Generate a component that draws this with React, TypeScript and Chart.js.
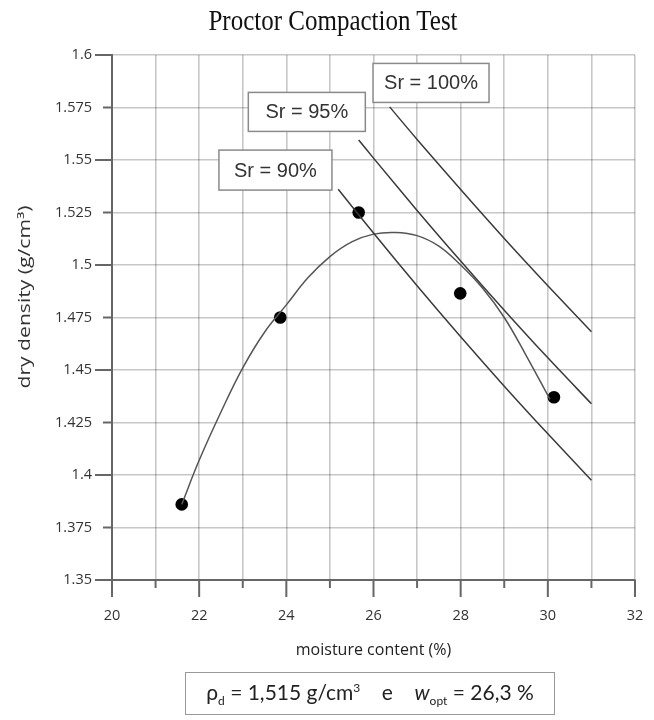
import React, { useEffect, useRef } from 'react';
import { Chart, registerables } from 'chart.js';
Chart.register(...registerables);

// measured points
const moisture = [21.6, 23.86, 25.66, 27.99, 30.14];
const dryDensity = [1.386, 1.475, 1.525, 1.4865, 1.437];

// fitted compaction curve
const curveMoisture = [21.6, 22.0, 22.5, 23.0, 23.5, 24.0, 24.5, 25.0, 25.5, 26.0, 26.5, 27.0, 27.5, 28.0, 28.5, 29.0, 29.5, 30.05];
const curveDensity = [1.386, 1.407, 1.43, 1.451, 1.468, 1.481, 1.494, 1.504, 1.511, 1.5147, 1.5155, 1.514, 1.509, 1.5, 1.489, 1.475, 1.457, 1.436];

// saturation lines
const sr90Moisture = [25.19, 26, 27, 28, 29, 30, 31];
const sr90Density = [1.5361, 1.5152, 1.4901, 1.4658, 1.4423, 1.4196, 1.3975];
const sr95Moisture = [25.66, 26, 27, 28, 29, 30, 31];
const sr95Density = [1.5595, 1.5509, 1.526, 1.5019, 1.4785, 1.4558, 1.4339];
const sr100Moisture = [26.37, 27, 28, 29, 30, 31];
const sr100Density = [1.5753, 1.5598, 1.5359, 1.5126, 1.4901, 1.4682];

// label anchors (data coordinates of box centres)
const srLabels = ['Sr = 90%', 'Sr = 95%', 'Sr = 100%'];
const srLabelMoisture = [23.75, 24.47, 27.32];
const srLabelDensity = [1.5452, 1.5729, 1.5867];

const titleText = 'Proctor Compaction Test';
const xTitle = 'moisture content (%)';
const yTitle = 'dry density (g/cm³)';
const xMin = 20, xMax = 32, xStep = 1;
const yMin = 1.35, yMax = 1.6, yStep = 0.025;

const zip = (xs: number[], ys: number[]) => xs.map((v, i) => ({ x: v, y: ys[i] }));

const decor = {
  id: 'decor',
  afterDatasetsDraw(chart: any) {
    const { ctx, scales: { x, y } } = chart;
    ctx.save();
    ctx.font = '20px "Liberation Sans", Arial, sans-serif';
    ctx.textAlign = 'center';
    ctx.textBaseline = 'middle';
    const sizes = [[113, 40], [117, 39], [116, 39]];
    srLabels.forEach((t, i) => {
      const cx = x.getPixelForValue(srLabelMoisture[i]);
      const cy = y.getPixelForValue(srLabelDensity[i]);
      const [w, h] = sizes[i];
      ctx.fillStyle = '#fff';
      ctx.fillRect(cx - w / 2, cy - h / 2, w, h);
      ctx.strokeStyle = '#8a8a8a';
      ctx.lineWidth = 1.5;
      ctx.strokeRect(cx - w / 2, cy - h / 2, w, h);
      ctx.fillStyle = '#333';
      ctx.fillText(t, cx, cy + 1);
    });
    ctx.restore();
  },
  afterDraw(chart: any) {
    const { ctx, chartArea, scales: { x, y } } = chart;
    ctx.save();
    ctx.strokeStyle = '#666';
    ctx.lineWidth = 2;
    y.ticks.forEach((t: any) => {
      const py = y.getPixelForValue(t.value);
      const r = t.value / 0.05;
      const major = Math.abs(r - Math.round(r)) < 1e-6;
      const len = major ? 17 : 9;
      ctx.beginPath();
      ctx.moveTo(chartArea.left - len, py);
      ctx.lineTo(chartArea.left, py);
      ctx.stroke();
    });
    x.ticks.forEach((t: any) => {
      const px = x.getPixelForValue(t.value);
      const major = Math.round(t.value) % 2 === 0;
      const len = major ? 17 : 8;
      ctx.beginPath();
      ctx.moveTo(px, chartArea.bottom);
      ctx.lineTo(px, chartArea.bottom + len);
      ctx.stroke();
    });
    ctx.translate(25, 297);
    ctx.rotate(-Math.PI / 2);
    ctx.scale(1.32, 1);
    ctx.font = '16px "Open Sans", sans-serif';
    ctx.fillStyle = '#333';
    ctx.textAlign = 'center';
    ctx.textBaseline = 'middle';
    ctx.fillText(yTitle, 0, 0);
    ctx.restore();
  },
};

export default function App() {
  const ref = useRef<HTMLCanvasElement | null>(null);
  useEffect(() => {
    if (!ref.current) return;
    const lineStyle = { showLine: true, pointRadius: 0, borderWidth: 1.5, fill: false };
    const chart = new Chart(ref.current, {
      type: 'scatter',
      data: {
        datasets: [
          { label: 'Sr 90', data: zip(sr90Moisture, sr90Density), borderColor: '#3a3a3a', tension: 0.3, ...lineStyle },
          { label: 'Sr 95', data: zip(sr95Moisture, sr95Density), borderColor: '#3a3a3a', tension: 0.3, ...lineStyle },
          { label: 'Sr 100', data: zip(sr100Moisture, sr100Density), borderColor: '#3a3a3a', tension: 0.3, ...lineStyle },
          { label: 'curve', data: zip(curveMoisture, curveDensity), borderColor: '#555', tension: 0.4, ...lineStyle },
          { label: 'points', data: zip(moisture, dryDensity), showLine: false, pointRadius: 6.3, pointBackgroundColor: '#000', pointBorderColor: '#000', pointBorderWidth: 0 },
        ] as any,
      },
      plugins: [decor],
      options: {
        animation: false,
        responsive: true,
        maintainAspectRatio: false,
        layout: { padding: { top: 55, right: 19, bottom: 0, left: 0 } },
        plugins: {
          legend: { display: false },
          tooltip: { enabled: false },
          title: { display: false },
        },
        scales: {
          x: {
            type: 'linear', min: xMin, max: xMax,
            afterFit: (s: any) => { s.height = 140; s.paddingLeft = 0; s.paddingRight = 0; },
            border: { color: '#666', width: 2 },
            grid: { color: 'rgba(0,0,0,0.22)', lineWidth: 1.6, drawTicks: false },
            ticks: {
              stepSize: xStep, padding: 27, color: '#333',
              font: { family: '"Open Sans", sans-serif', size: 14.5 },
              callback: (v: any) => (Math.round(v) % 2 === 0 ? String(v) : ''),
            },
            title: {
              display: true, text: xTitle, color: '#222',
              font: { family: '"Open Sans", sans-serif', size: 16 },
              padding: { bottom: 60 },
            },
          },
          y: {
            type: 'linear', min: yMin, max: yMax,
            afterFit: (s: any) => { s.width = 112; },
            border: { color: '#666', width: 2 },
            grid: { color: 'rgba(0,0,0,0.22)', lineWidth: 1.6, drawTicks: false },
            ticks: {
              stepSize: yStep, padding: 20, color: '#333',
              font: { family: '"Open Sans", sans-serif', size: 14.5 },
              callback: (v: any) => String(parseFloat(Number(v).toFixed(3))),
            },
          },
        },
      },
    });
    return () => chart.destroy();
  }, []);
  return (
    <div style={{ position: 'fixed', left: 0, top: 0, width: 654, height: 720, background: '#fff' }}>
      <canvas ref={ref} />
      <div
        style={{
          position: 'absolute', left: 333, top: 6, transform: 'translateX(-50%) scaleY(1.15)', whiteSpace: 'nowrap',
          fontFamily: '"Liberation Serif", "Times New Roman", serif', fontSize: 25, color: '#111', lineHeight: '30px',
        }}
      >
        {titleText}
      </div>
      <div
        style={{
          position: 'absolute', left: 185, top: 672, width: 370, height: 43, boxSizing: 'border-box',
          border: '1.5px solid #999', display: 'flex', alignItems: 'center', justifyContent: 'center',
          fontFamily: 'Lato, "Open Sans", sans-serif', fontSize: 21, color: '#222', whiteSpace: 'pre',
        }}
      >
        <span>
          ρ<sub style={{ fontSize: 12 }}>d</sub> = 1,515 g/cm<sup style={{ fontSize: 12 }}>3</sup>{'    e    '}
          <i>w</i><sub style={{ fontSize: 12 }}>opt</sub> = 26,3 %
        </span>
      </div>
    </div>
  );
}
